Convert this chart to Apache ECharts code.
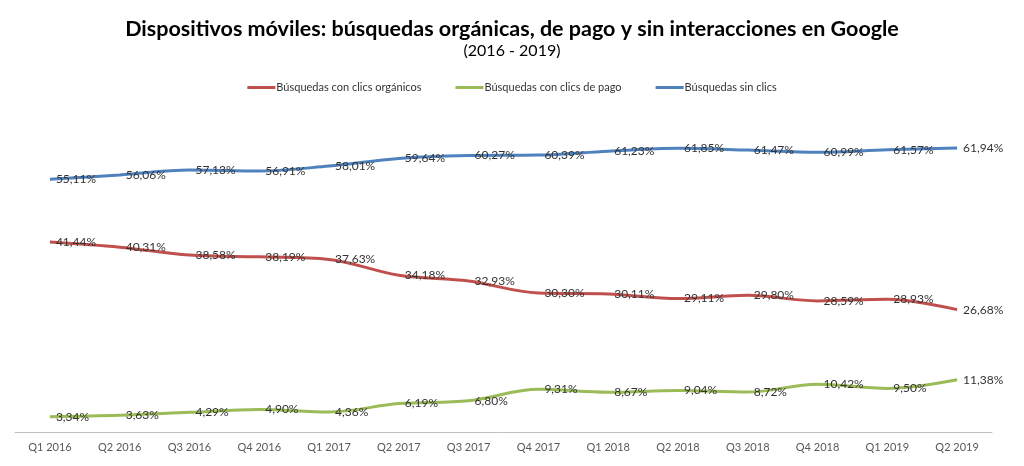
<!DOCTYPE html>
<html><head><meta charset="utf-8">
<script src="https://cdn.jsdelivr.net/npm/echarts@6/dist/echarts.min.js"></script>
<style>html,body{margin:0;padding:0;background:#fff}#c{width:1024px;height:466px}</style>
</head><body><div id="c"></div>
<script>
var categories = ['Q1 2016','Q2 2016','Q3 2016','Q4 2016','Q1 2017','Q2 2017','Q3 2017','Q4 2017','Q1 2018','Q2 2018','Q3 2018','Q4 2018','Q1 2019','Q2 2019'];
var organicos = [41.44,40.31,38.58,38.19,37.63,34.18,32.93,30.30,30.11,29.11,29.80,28.59,28.93,26.68];
var pago = [3.34,3.63,4.29,4.90,4.36,6.19,6.80,9.31,8.67,9.04,8.72,10.42,9.50,11.38];
var sinClics = [55.11,56.06,57.13,56.91,58.01,59.64,60.27,60.39,61.23,61.85,61.47,60.99,61.57,61.94];
var seriesNames = ['Búsquedas con clics orgánicos','Búsquedas con clics de pago','Búsquedas sin clics'];

var FONT = 'Lato, "Open Sans", sans-serif';
function fmt(p){ return p.value.toFixed(2).replace('.', ',') + '%'; }
function mk(name, data, color){
  return {
    name: name, type: 'line', data: data, smooth: 0.35,
    symbol: 'circle', symbolSize: 0, showSymbol: true,
    lineStyle: {color: color, width: 3},
    itemStyle: {color: color},
    label: {show: true, position: 'right', distance: 6, formatter: fmt,
            color: '#333333', fontSize: 12, fontFamily: FONT},
    emphasis: {disabled: true}
  };
}
var chart = echarts.init(document.getElementById('c'));
chart.setOption({
  animation: false,
  title: {
    text: 'Dispositivos móviles: búsquedas orgánicas, de pago y sin interacciones en Google',
    subtext: '(2016 - 2019)',
    left: 'center', top: 13, itemGap: 3,
    textStyle: {fontFamily: FONT, fontWeight: 'bold', fontSize: 21.5, color: '#000'},
    subtextStyle: {fontFamily: FONT, fontSize: 16, color: '#000'}
  },
  legend: {
    top: 77, left: 'center', itemGap: 34, itemWidth: 28, itemHeight: 3, icon: 'rect',
    textStyle: {fontFamily: FONT, fontSize: 11, color: '#333333', padding: [0,0,0,-4]},
    data: seriesNames
  },
  grid: {left: 15, right: 32, top: 111, bottom: 34},
  xAxis: {
    type: 'category', data: categories, boundaryGap: true,
    axisLine: {lineStyle: {color: '#bfbfbf', width: 1}},
    axisTick: {show: false},
    axisLabel: {color: '#595959', fontSize: 11, fontFamily: FONT, margin: 10, interval: 0}
  },
  yAxis: {
    type: 'value', min: 0, max: 70, interval: 10, show: false,
    splitLine: {show: false}
  },
  series: [
    mk(seriesNames[0], organicos, '#C0504D'),
    mk(seriesNames[1], pago, '#9BBB59'),
    mk(seriesNames[2], sinClics, '#4F81BD')
  ]
});
</script></body></html>
